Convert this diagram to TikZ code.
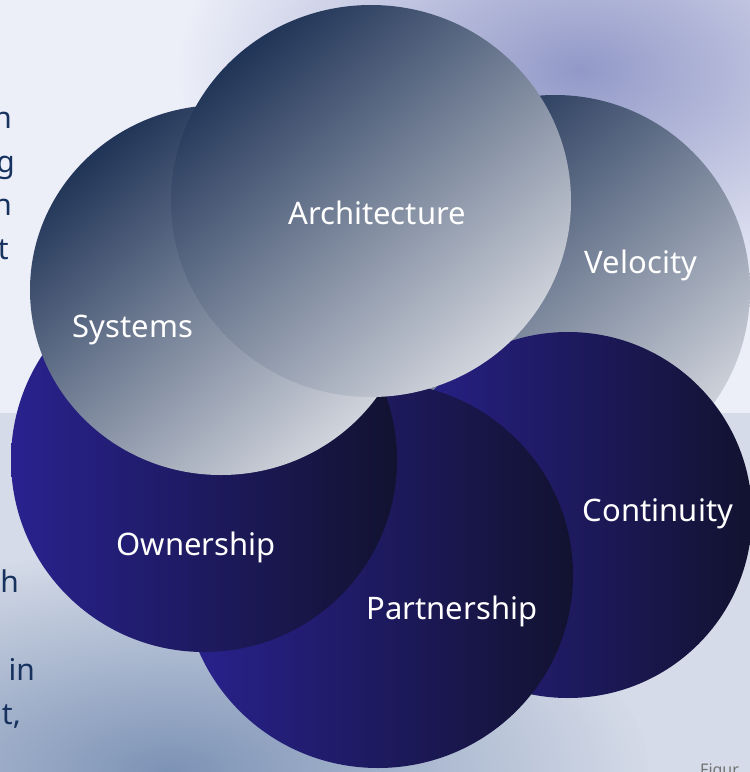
\documentclass[tikz,border=0pt]{standalone}
\usepackage{fontspec}
\setmainfont{Noto Sans}
\usetikzlibrary{fadings}

\definecolor{slatedark}{HTML}{203457}
\definecolor{slatelight}{HTML}{D0D4DC}
\definecolor{navyleft}{HTML}{29228F}
\definecolor{navyright}{HTML}{121230}
\definecolor{textnavy}{HTML}{17325F}
\definecolor{bgtop}{HTML}{ECEEF8}
\definecolor{bgbottom}{HTML}{D5DBE8}
\definecolor{haze}{HTML}{9299C8}
\definecolor{hazelow}{HTML}{7D93B6}

\tikzfading[name=soft glow, inner color=transparent!0, outer color=transparent!100]

\tikzset{
  grey disc/.style={top color=slatedark, bottom color=slatelight, shading angle=40},
  navy disc/.style={left color=navyleft, right color=navyright},
  glow/.style={path fading=soft glow},
  disc text/.style={text=white, font=\fontsize{31}{36}\selectfont, inner sep=0pt},
  side text/.style={text=textnavy, font=\fontsize{30}{36}\selectfont, inner sep=0pt, anchor=base east},
}

\begin{document}
\begin{tikzpicture}[x=1pt, y=-1pt]

  \useasboundingbox (0,0) rectangle (750,772);
  \clip (0,0) rectangle (750,772);

  % background
  \fill[bgtop] (0,0) rectangle (750,413);
  \fill[bgbottom] (0,413) rectangle (750,772);
  \fill[haze, glow] (580,70) ellipse [x radius=400pt, y radius=240pt];
  \fill[hazelow, glow] (170,770) ellipse [x radius=480pt, y radius=220pt];

  \node[coordinate] (c_arch) at (371,201) {};
  \node[coordinate] (c_sys) at (221,290) {};
  \node[coordinate] (c_vel) at (555,290) {};
  \node[coordinate] (c_own) at (204,460) {};
  \node[coordinate] (c_part) at (378,575) {};
  \node[coordinate] (c_cont) at (568,515) {};

  % discs, back to front
  \shade[grey disc] (c_vel) ellipse [x radius=195pt, y radius=195pt];
  \shade[navy disc] (c_cont) ellipse [x radius=184pt, y radius=183pt];
  \shade[navy disc] (c_part) ellipse [x radius=195pt, y radius=193pt];
  \shade[navy disc] (c_own) ellipse [x radius=193pt, y radius=192pt];
  \shade[grey disc] (c_sys) ellipse [x radius=191pt, y radius=185pt];
  \shade[grey disc] (c_arch) ellipse [x radius=200pt, y radius=196pt];

  \node[disc text] (architecture) at (377,213) {Architecture};
  \node[disc text] (systems) at (133,330) {Systems};
  \node[disc text] (velocity) at (641,265) {Velocity};
  \node[disc text] (ownership) at (196,547) {Ownership};
  \node[disc text] (partnership) at (452,611) {Partnership};
  \node[disc text] (continuity) at (658,514) {Continuity};

  % text running off the left edge
  \node[side text] (line_a) at (12,128) {n};
  \node[side text] (line_b) at (15,172) {g};
  \node[side text] (line_c) at (12,215) {n};
  \node[side text] (line_d) at (9,259) {t};
  \node[side text] (line_e) at (19,592) {h};
  \node[side text] (line_f) at (35,680) {in};
  \node[side text] (line_g) at (21,724) {t,};

  \node[text=black!55, font=\fontsize{16}{18}\selectfont, anchor=base west, inner sep=0pt] (caption) at (700,775) {Figur};

\end{tikzpicture}
\end{document}
